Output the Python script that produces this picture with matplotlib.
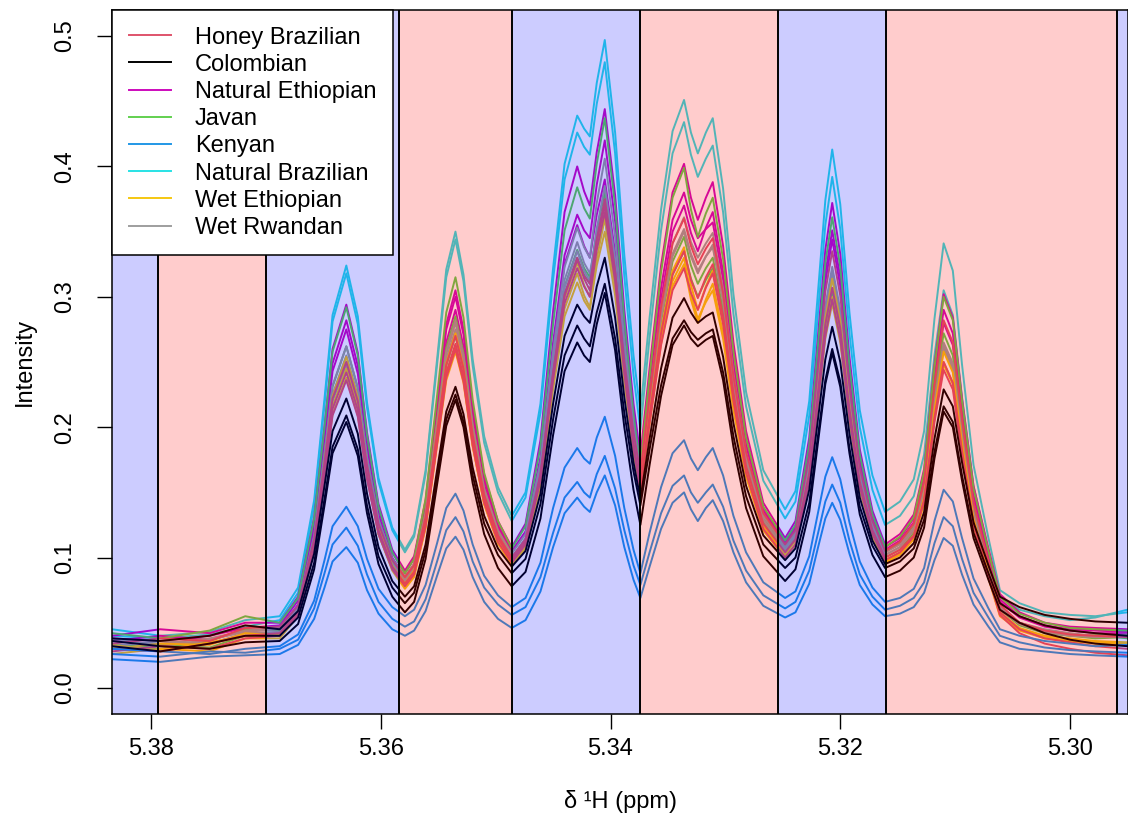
import matplotlib
matplotlib.use("Agg")
import matplotlib.pyplot as plt
from matplotlib.lines import Line2D

# ----- Data ------------------------------------------------------------

# chemical shift grid (ppm), shared by every spectrum
shift_ppm = [5.3834, 5.3792, 5.3749, 5.3718, 5.3688,
             5.3672, 5.3658, 5.3649, 5.3642, 5.3630, 5.3620, 5.3612, 5.3602, 5.3590,
             5.3579,
             5.3571, 5.3561, 5.3551, 5.3543, 5.3535, 5.3528, 5.3520, 5.3510, 5.3498,
             5.3486,
             5.3474, 5.3461, 5.3450, 5.3440, 5.3429, 5.3423, 5.3418, 5.3412, 5.3405, 5.3396, 5.3388, 5.3380,
             5.3374,
             5.3366, 5.3356, 5.3346, 5.3336, 5.3330, 5.3324, 5.3317, 5.3311, 5.3302, 5.3293, 5.3282, 5.3267,
             5.3248,
             5.3239, 5.3227, 5.3219, 5.3213, 5.3207, 5.3200, 5.3192, 5.3183, 5.3172,
             5.3161,
             5.3148, 5.3136, 5.3127, 5.3118, 5.3110, 5.3102, 5.3094, 5.3084, 5.3071,
             5.3061, 5.3044, 5.3022, 5.3000, 5.2978, 5.2950]

natural_brazilian_1 = [0.045, 0.040, 0.043, 0.052, 0.055,
    0.077, 0.144, 0.222, 0.286, 0.324, 0.285, 0.219, 0.161, 0.123, 0.106,
    0.118, 0.167, 0.252, 0.321, 0.350, 0.317, 0.252, 0.193, 0.154, 0.132,
    0.150, 0.218, 0.322, 0.402, 0.439, 0.429, 0.423, 0.464, 0.497, 0.426, 0.332, 0.255, 0.212,
    0.284, 0.367, 0.427, 0.451, 0.426, 0.410, 0.426, 0.437, 0.383, 0.302, 0.227, 0.167, 0.137,
    0.151, 0.220, 0.308, 0.374, 0.413, 0.371, 0.288, 0.213, 0.163, 0.135,
    0.143, 0.160, 0.197, 0.283, 0.341, 0.320, 0.248, 0.171, 0.115,
    0.075, 0.065, 0.058, 0.056, 0.055, 0.058]
natural_brazilian_2 = [0.040, 0.038, 0.041, 0.047, 0.052,
    0.073, 0.140, 0.217, 0.281, 0.318, 0.279, 0.215, 0.158, 0.121, 0.104,
    0.116, 0.164, 0.248, 0.315, 0.344, 0.312, 0.247, 0.188, 0.150, 0.128,
    0.146, 0.211, 0.313, 0.390, 0.426, 0.415, 0.409, 0.448, 0.480, 0.410, 0.316, 0.240, 0.198,
    0.269, 0.351, 0.410, 0.434, 0.409, 0.392, 0.406, 0.416, 0.365, 0.287, 0.216, 0.159, 0.130,
    0.143, 0.209, 0.292, 0.355, 0.392, 0.352, 0.272, 0.200, 0.152, 0.125,
    0.132, 0.147, 0.179, 0.255, 0.305, 0.286, 0.223, 0.155, 0.105,
    0.070, 0.060, 0.055, 0.052, 0.054, 0.060]

natural_ethiopian_1 = [0.040, 0.045, 0.042, 0.050, 0.050,
    0.070, 0.131, 0.201, 0.260, 0.294, 0.257, 0.196, 0.141, 0.106, 0.090,
    0.101, 0.144, 0.219, 0.279, 0.305, 0.275, 0.216, 0.163, 0.128, 0.108,
    0.126, 0.190, 0.289, 0.365, 0.400, 0.381, 0.370, 0.411, 0.444, 0.378, 0.290, 0.218, 0.178,
    0.245, 0.324, 0.380, 0.402, 0.376, 0.359, 0.376, 0.388, 0.339, 0.265, 0.197, 0.142, 0.115,
    0.128, 0.192, 0.274, 0.336, 0.372, 0.333, 0.254, 0.183, 0.136, 0.110,
    0.118, 0.133, 0.168, 0.248, 0.302, 0.284, 0.222, 0.155, 0.107,
    0.072, 0.058, 0.050, 0.047, 0.046, 0.045]
natural_ethiopian_2 = [0.038, 0.036, 0.040, 0.046, 0.048,
    0.067, 0.125, 0.193, 0.249, 0.282, 0.247, 0.189, 0.137, 0.104, 0.088,
    0.099, 0.141, 0.215, 0.275, 0.300, 0.271, 0.212, 0.160, 0.125, 0.105,
    0.120, 0.177, 0.265, 0.332, 0.363, 0.351, 0.345, 0.386, 0.420, 0.358, 0.275, 0.208, 0.170,
    0.233, 0.307, 0.359, 0.380, 0.359, 0.345, 0.352, 0.357, 0.313, 0.247, 0.186, 0.137, 0.112,
    0.124, 0.184, 0.260, 0.318, 0.351, 0.315, 0.242, 0.176, 0.132, 0.108,
    0.115, 0.130, 0.163, 0.239, 0.290, 0.272, 0.212, 0.148, 0.101,
    0.068, 0.055, 0.048, 0.045, 0.044, 0.043]
natural_ethiopian_3 = [0.036, 0.040, 0.037, 0.044, 0.046,
    0.064, 0.122, 0.188, 0.243, 0.275, 0.241, 0.184, 0.133, 0.100, 0.085,
    0.095, 0.136, 0.208, 0.265, 0.290, 0.262, 0.206, 0.156, 0.123, 0.104,
    0.119, 0.174, 0.260, 0.325, 0.355, 0.339, 0.330, 0.363, 0.390, 0.334, 0.260, 0.199, 0.165,
    0.227, 0.298, 0.350, 0.370, 0.349, 0.335, 0.353, 0.365, 0.319, 0.250, 0.187, 0.136, 0.110,
    0.122, 0.180, 0.255, 0.311, 0.344, 0.308, 0.237, 0.173, 0.130, 0.106,
    0.113, 0.127, 0.158, 0.231, 0.280, 0.263, 0.205, 0.143, 0.098,
    0.066, 0.054, 0.047, 0.044, 0.042, 0.042]

javan_1 = [0.042, 0.038, 0.044, 0.055, 0.050,
    0.069, 0.130, 0.200, 0.258, 0.292, 0.255, 0.194, 0.139, 0.104, 0.088,
    0.099, 0.145, 0.224, 0.288, 0.315, 0.284, 0.221, 0.165, 0.128, 0.107,
    0.124, 0.185, 0.279, 0.351, 0.384, 0.368, 0.360, 0.402, 0.437, 0.370, 0.282, 0.210, 0.170,
    0.239, 0.319, 0.376, 0.399, 0.367, 0.346, 0.364, 0.376, 0.329, 0.258, 0.192, 0.139, 0.113,
    0.125, 0.187, 0.267, 0.326, 0.361, 0.323, 0.247, 0.179, 0.133, 0.108,
    0.116, 0.131, 0.166, 0.246, 0.300, 0.282, 0.220, 0.153, 0.105,
    0.070, 0.057, 0.050, 0.046, 0.045, 0.044]
javan_2 = [0.034, 0.030, 0.036, 0.045, 0.044,
    0.061, 0.116, 0.179, 0.231, 0.262, 0.230, 0.177, 0.129, 0.099, 0.085,
    0.095, 0.135, 0.205, 0.261, 0.285, 0.257, 0.202, 0.152, 0.119, 0.100,
    0.114, 0.166, 0.246, 0.308, 0.336, 0.322, 0.315, 0.351, 0.380, 0.325, 0.252, 0.193, 0.160,
    0.216, 0.281, 0.327, 0.346, 0.324, 0.310, 0.322, 0.330, 0.290, 0.230, 0.175, 0.130, 0.108,
    0.118, 0.170, 0.236, 0.286, 0.315, 0.283, 0.220, 0.163, 0.125, 0.104,
    0.111, 0.124, 0.154, 0.225, 0.272, 0.255, 0.199, 0.138, 0.094,
    0.062, 0.050, 0.043, 0.040, 0.041, 0.038]
javan_3 = [0.030, 0.033, 0.031, 0.040, 0.042,
    0.059, 0.111, 0.171, 0.221, 0.250, 0.219, 0.168, 0.123, 0.094, 0.080,
    0.090, 0.128, 0.194, 0.247, 0.270, 0.244, 0.193, 0.146, 0.115, 0.098,
    0.112, 0.163, 0.242, 0.302, 0.330, 0.317, 0.310, 0.338, 0.360, 0.310, 0.243, 0.188, 0.158,
    0.211, 0.273, 0.317, 0.335, 0.314, 0.300, 0.313, 0.322, 0.283, 0.224, 0.170, 0.127, 0.105,
    0.115, 0.165, 0.229, 0.277, 0.305, 0.274, 0.213, 0.157, 0.121, 0.100,
    0.106, 0.119, 0.149, 0.217, 0.262, 0.246, 0.191, 0.133, 0.090,
    0.060, 0.048, 0.042, 0.040, 0.038, 0.039]

wet_rwandan_1 = [0.036, 0.034, 0.038, 0.044, 0.046,
    0.063, 0.117, 0.180, 0.232, 0.262, 0.230, 0.177, 0.129, 0.099, 0.085,
    0.095, 0.134, 0.203, 0.258, 0.282, 0.255, 0.201, 0.153, 0.121, 0.103,
    0.118, 0.173, 0.258, 0.323, 0.353, 0.338, 0.330, 0.372, 0.406, 0.346, 0.266, 0.201, 0.165,
    0.224, 0.292, 0.341, 0.361, 0.342, 0.330, 0.341, 0.349, 0.306, 0.241, 0.180, 0.132, 0.108,
    0.119, 0.173, 0.241, 0.293, 0.323, 0.290, 0.224, 0.165, 0.126, 0.104,
    0.110, 0.123, 0.152, 0.220, 0.265, 0.249, 0.194, 0.135, 0.092,
    0.062, 0.050, 0.044, 0.041, 0.040, 0.040]
wet_rwandan_2 = [0.032, 0.036, 0.034, 0.042, 0.043,
    0.060, 0.113, 0.174, 0.225, 0.255, 0.224, 0.172, 0.125, 0.096, 0.082,
    0.092, 0.130, 0.198, 0.252, 0.275, 0.249, 0.196, 0.149, 0.118, 0.100,
    0.115, 0.168, 0.250, 0.313, 0.342, 0.326, 0.318, 0.347, 0.370, 0.318, 0.248, 0.192, 0.160,
    0.217, 0.284, 0.331, 0.350, 0.331, 0.318, 0.331, 0.340, 0.298, 0.235, 0.176, 0.129, 0.106,
    0.116, 0.169, 0.236, 0.286, 0.315, 0.283, 0.219, 0.162, 0.123, 0.102,
    0.108, 0.121, 0.149, 0.216, 0.260, 0.244, 0.190, 0.132, 0.090,
    0.060, 0.049, 0.043, 0.040, 0.039, 0.039]
wet_rwandan_3 = [0.038, 0.032, 0.037, 0.043, 0.045,
    0.061, 0.112, 0.171, 0.220, 0.248, 0.218, 0.169, 0.124, 0.096, 0.083,
    0.093, 0.132, 0.201, 0.256, 0.280, 0.253, 0.199, 0.150, 0.118, 0.100,
    0.114, 0.166, 0.246, 0.307, 0.335, 0.320, 0.312, 0.352, 0.385, 0.329, 0.255, 0.194, 0.160,
    0.218, 0.285, 0.333, 0.352, 0.333, 0.320, 0.331, 0.338, 0.296, 0.234, 0.176, 0.129, 0.106,
    0.117, 0.170, 0.239, 0.290, 0.320, 0.287, 0.222, 0.163, 0.124, 0.102,
    0.108, 0.121, 0.150, 0.217, 0.262, 0.246, 0.191, 0.133, 0.090,
    0.060, 0.050, 0.045, 0.042, 0.040, 0.041]

wet_ethiopian_1 = [0.030, 0.034, 0.033, 0.042, 0.040,
    0.057, 0.111, 0.173, 0.224, 0.254, 0.223, 0.170, 0.124, 0.094, 0.080,
    0.090, 0.128, 0.195, 0.249, 0.272, 0.246, 0.193, 0.146, 0.115, 0.097,
    0.111, 0.161, 0.239, 0.299, 0.326, 0.309, 0.300, 0.340, 0.372, 0.318, 0.246, 0.188, 0.155,
    0.210, 0.274, 0.320, 0.338, 0.309, 0.290, 0.308, 0.320, 0.281, 0.222, 0.167, 0.124, 0.102,
    0.113, 0.166, 0.233, 0.284, 0.314, 0.282, 0.217, 0.158, 0.120, 0.098,
    0.104, 0.117, 0.146, 0.213, 0.258, 0.242, 0.188, 0.130, 0.088,
    0.058, 0.046, 0.040, 0.038, 0.036, 0.035]
wet_ethiopian_2 = [0.026, 0.030, 0.028, 0.038, 0.038,
    0.055, 0.106, 0.166, 0.216, 0.245, 0.215, 0.164, 0.118, 0.090, 0.076,
    0.085, 0.123, 0.188, 0.240, 0.262, 0.237, 0.186, 0.141, 0.111, 0.094,
    0.107, 0.155, 0.229, 0.285, 0.311, 0.297, 0.290, 0.329, 0.360, 0.308, 0.238, 0.182, 0.150,
    0.203, 0.264, 0.308, 0.325, 0.298, 0.280, 0.298, 0.310, 0.272, 0.216, 0.163, 0.121, 0.100,
    0.110, 0.160, 0.224, 0.272, 0.300, 0.269, 0.208, 0.153, 0.116, 0.096,
    0.102, 0.114, 0.142, 0.207, 0.250, 0.234, 0.182, 0.126, 0.085,
    0.056, 0.045, 0.039, 0.036, 0.035, 0.034]
wet_ethiopian_3 = [0.033, 0.029, 0.035, 0.040, 0.041,
    0.057, 0.106, 0.163, 0.210, 0.238, 0.209, 0.161, 0.118, 0.091, 0.078,
    0.087, 0.123, 0.186, 0.236, 0.258, 0.234, 0.185, 0.141, 0.111, 0.095,
    0.108, 0.157, 0.233, 0.291, 0.318, 0.301, 0.292, 0.324, 0.350, 0.301, 0.235, 0.182, 0.152,
    0.205, 0.268, 0.312, 0.330, 0.302, 0.283, 0.296, 0.305, 0.268, 0.213, 0.162, 0.121, 0.100,
    0.110, 0.159, 0.221, 0.268, 0.295, 0.265, 0.206, 0.152, 0.117, 0.097,
    0.103, 0.115, 0.142, 0.206, 0.248, 0.233, 0.180, 0.124, 0.084,
    0.055, 0.044, 0.038, 0.036, 0.034, 0.033]

honey_brazilian_1 = [0.030, 0.028, 0.034, 0.040, 0.042,
    0.058, 0.108, 0.166, 0.214, 0.242, 0.213, 0.164, 0.121, 0.093, 0.080,
    0.089, 0.126, 0.190, 0.242, 0.264, 0.239, 0.189, 0.144, 0.115, 0.098,
    0.112, 0.163, 0.242, 0.302, 0.330, 0.314, 0.305, 0.344, 0.375, 0.320, 0.247, 0.188, 0.155,
    0.209, 0.272, 0.317, 0.335, 0.313, 0.299, 0.315, 0.325, 0.285, 0.226, 0.170, 0.126, 0.104,
    0.114, 0.165, 0.230, 0.279, 0.307, 0.276, 0.214, 0.158, 0.121, 0.100,
    0.106, 0.117, 0.143, 0.204, 0.244, 0.229, 0.179, 0.125, 0.086,
    0.058, 0.045, 0.038, 0.035, 0.032, 0.030]
honey_brazilian_2 = [0.028, 0.032, 0.030, 0.038, 0.040,
    0.056, 0.105, 0.162, 0.209, 0.236, 0.208, 0.160, 0.118, 0.091, 0.078,
    0.087, 0.124, 0.187, 0.238, 0.260, 0.235, 0.186, 0.142, 0.112, 0.096,
    0.110, 0.159, 0.236, 0.295, 0.322, 0.308, 0.300, 0.336, 0.365, 0.312, 0.241, 0.184, 0.152,
    0.203, 0.263, 0.305, 0.322, 0.303, 0.290, 0.307, 0.318, 0.279, 0.220, 0.165, 0.122, 0.100,
    0.110, 0.159, 0.223, 0.270, 0.298, 0.268, 0.208, 0.154, 0.118, 0.098,
    0.104, 0.116, 0.144, 0.207, 0.250, 0.234, 0.182, 0.126, 0.085,
    0.056, 0.042, 0.034, 0.030, 0.027, 0.025]
honey_brazilian_3 = [0.034, 0.038, 0.036, 0.046, 0.047,
    0.063, 0.114, 0.173, 0.222, 0.250, 0.220, 0.171, 0.126, 0.098, 0.085,
    0.094, 0.131, 0.196, 0.248, 0.270, 0.245, 0.194, 0.148, 0.117, 0.100,
    0.114, 0.164, 0.241, 0.301, 0.328, 0.316, 0.310, 0.343, 0.370, 0.319, 0.251, 0.196, 0.165,
    0.224, 0.292, 0.341, 0.360, 0.339, 0.325, 0.337, 0.345, 0.303, 0.239, 0.181, 0.134, 0.110,
    0.121, 0.178, 0.250, 0.304, 0.335, 0.301, 0.232, 0.169, 0.128, 0.105,
    0.112, 0.126, 0.158, 0.232, 0.282, 0.265, 0.206, 0.142, 0.097,
    0.064, 0.050, 0.044, 0.041, 0.040, 0.039]

kenyan_1 = [0.030, 0.028, 0.026, 0.030, 0.032,
    0.041, 0.067, 0.098, 0.124, 0.139, 0.124, 0.099, 0.076, 0.062, 0.055,
    0.060, 0.079, 0.111, 0.138, 0.149, 0.136, 0.110, 0.086, 0.071, 0.062,
    0.069, 0.096, 0.138, 0.169, 0.184, 0.176, 0.172, 0.192, 0.208, 0.178, 0.138, 0.106, 0.088,
    0.119, 0.154, 0.180, 0.190, 0.176, 0.167, 0.177, 0.184, 0.163, 0.132, 0.104, 0.081, 0.069,
    0.074, 0.101, 0.136, 0.162, 0.177, 0.160, 0.127, 0.097, 0.077, 0.066,
    0.069, 0.076, 0.092, 0.128, 0.152, 0.143, 0.115, 0.084, 0.061,
    0.045, 0.040, 0.036, 0.034, 0.032, 0.033]
kenyan_2 = [0.026, 0.024, 0.028, 0.027, 0.030,
    0.037, 0.061, 0.088, 0.110, 0.123, 0.109, 0.087, 0.066, 0.053, 0.047,
    0.051, 0.068, 0.097, 0.121, 0.131, 0.120, 0.097, 0.077, 0.064, 0.056,
    0.062, 0.085, 0.119, 0.146, 0.158, 0.150, 0.146, 0.164, 0.178, 0.153, 0.121, 0.094, 0.079,
    0.104, 0.134, 0.155, 0.163, 0.150, 0.142, 0.150, 0.156, 0.139, 0.113, 0.090, 0.071, 0.061,
    0.066, 0.090, 0.120, 0.143, 0.156, 0.142, 0.113, 0.087, 0.070, 0.060,
    0.063, 0.069, 0.081, 0.111, 0.131, 0.124, 0.099, 0.073, 0.054,
    0.040, 0.035, 0.031, 0.029, 0.028, 0.027]
kenyan_3 = [0.022, 0.020, 0.024, 0.025, 0.026,
    0.033, 0.053, 0.077, 0.097, 0.108, 0.096, 0.075, 0.057, 0.045, 0.040,
    0.044, 0.059, 0.086, 0.107, 0.116, 0.106, 0.085, 0.066, 0.053, 0.046,
    0.052, 0.074, 0.108, 0.134, 0.146, 0.139, 0.135, 0.150, 0.163, 0.140, 0.108, 0.083, 0.069,
    0.093, 0.122, 0.142, 0.150, 0.137, 0.128, 0.138, 0.144, 0.128, 0.104, 0.081, 0.063, 0.054,
    0.058, 0.080, 0.109, 0.130, 0.142, 0.129, 0.103, 0.079, 0.064, 0.055,
    0.057, 0.062, 0.073, 0.098, 0.115, 0.109, 0.087, 0.064, 0.047,
    0.035, 0.030, 0.028, 0.026, 0.025, 0.024]

colombian_1 = [0.038, 0.036, 0.040, 0.048, 0.045,
    0.059, 0.103, 0.155, 0.197, 0.222, 0.195, 0.149, 0.108, 0.082, 0.070,
    0.078, 0.110, 0.167, 0.212, 0.231, 0.210, 0.169, 0.132, 0.107, 0.093,
    0.105, 0.149, 0.218, 0.270, 0.294, 0.285, 0.280, 0.308, 0.330, 0.284, 0.223, 0.173, 0.145,
    0.191, 0.245, 0.284, 0.299, 0.288, 0.280, 0.285, 0.288, 0.254, 0.203, 0.155, 0.117, 0.098,
    0.107, 0.152, 0.209, 0.252, 0.277, 0.250, 0.195, 0.146, 0.113, 0.095,
    0.100, 0.111, 0.135, 0.191, 0.229, 0.216, 0.173, 0.127, 0.094,
    0.070, 0.062, 0.056, 0.053, 0.051, 0.050]
colombian_2 = [0.032, 0.028, 0.034, 0.040, 0.040,
    0.054, 0.096, 0.145, 0.185, 0.209, 0.183, 0.140, 0.101, 0.077, 0.065,
    0.073, 0.105, 0.161, 0.206, 0.225, 0.204, 0.163, 0.126, 0.102, 0.088,
    0.099, 0.141, 0.206, 0.255, 0.278, 0.268, 0.262, 0.288, 0.310, 0.268, 0.211, 0.166, 0.140,
    0.183, 0.232, 0.268, 0.282, 0.273, 0.267, 0.272, 0.275, 0.242, 0.193, 0.147, 0.110, 0.092,
    0.100, 0.142, 0.196, 0.236, 0.260, 0.235, 0.184, 0.139, 0.109, 0.092,
    0.097, 0.107, 0.129, 0.181, 0.216, 0.204, 0.163, 0.119, 0.088,
    0.065, 0.055, 0.048, 0.044, 0.042, 0.040]
colombian_3 = [0.036, 0.032, 0.030, 0.035, 0.036,
    0.049, 0.091, 0.140, 0.180, 0.204, 0.178, 0.134, 0.095, 0.070, 0.058,
    0.066, 0.099, 0.156, 0.201, 0.221, 0.200, 0.157, 0.118, 0.092, 0.078,
    0.089, 0.130, 0.194, 0.243, 0.265, 0.255, 0.250, 0.279, 0.303, 0.259, 0.200, 0.152, 0.125,
    0.171, 0.224, 0.263, 0.278, 0.268, 0.262, 0.267, 0.270, 0.236, 0.185, 0.138, 0.101, 0.082,
    0.091, 0.135, 0.191, 0.233, 0.257, 0.231, 0.180, 0.133, 0.102, 0.085,
    0.090, 0.100, 0.123, 0.176, 0.212, 0.200, 0.159, 0.115, 0.083,
    0.060, 0.050, 0.042, 0.037, 0.034, 0.032]

# legend order and colours (R 4 palette)
varieties = ["Honey Brazilian", "Colombian", "Natural Ethiopian", "Javan",
             "Kenyan", "Natural Brazilian", "Wet Ethiopian", "Wet Rwandan"]
variety_colors = ["#DF536B", "#000000", "#CD0BBC", "#61D04F",
                  "#2297E6", "#28E2E5", "#F5C710", "#9E9E9E"]

# shaded integration regions (ppm edges) and their colours
region_edges = [5.3900, 5.3794, 5.3700, 5.3584, 5.3486, 5.3374,
                5.3254, 5.3160, 5.2959, 5.2900]
region_colors = ["blue", "red", "blue", "red", "blue", "red", "blue", "red", "blue"]

# ----- Plot -------------------------------------------------

spectra = {
    "Natural Brazilian": [natural_brazilian_1, natural_brazilian_2],
    "Natural Ethiopian": [natural_ethiopian_1, natural_ethiopian_2, natural_ethiopian_3],
    "Javan": [javan_1, javan_2, javan_3],
    "Wet Rwandan": [wet_rwandan_1, wet_rwandan_2, wet_rwandan_3],
    "Wet Ethiopian": [wet_ethiopian_1, wet_ethiopian_2, wet_ethiopian_3],
    "Honey Brazilian": [honey_brazilian_1, honey_brazilian_2, honey_brazilian_3],
    "Kenyan": [kenyan_1, kenyan_2, kenyan_3],
    "Colombian": [colombian_1, colombian_2, colombian_3],
}
color_of = dict(zip(varieties, variety_colors))

plt.rcParams['font.family'] = ['Liberation Sans', 'DejaVu Sans']
plt.rcParams['font.size'] = 17

fig = plt.figure(figsize=(11.28, 8.16), dpi=100)
ax = fig.add_axes([112/1128, 1 - 714/816, 1016/1128, 704/816])

for name, lines in spectra.items():
    for y in lines:
        ax.plot(shift_ppm, y, color=color_of[name], lw=1.4, zorder=2)

# translucent regions are laid over the spectra
for i in range(len(region_colors)):
    ax.axvspan(region_edges[i], region_edges[i + 1], color=region_colors[i],
               alpha=0.2, lw=0, zorder=3)
for edge in region_edges[1:-1]:
    ax.axvline(edge, color="black", lw=1.4, zorder=4)

ax.set_xlim(5.3834, 5.29495)
ax.set_ylim(-0.02, 0.52)
ax.set_xticks([5.38, 5.36, 5.34, 5.32, 5.30])
ax.set_xticklabels(["5.38", "5.36", "5.34", "5.32", "5.30"])
ax.set_yticks([0.0, 0.1, 0.2, 0.3, 0.4, 0.5])
ax.set_yticklabels(["0.0", "0.1", "0.2", "0.3", "0.4", "0.5"])
ax.tick_params(axis='both', direction='out', length=10.5, width=1.0, labelsize=17)
ax.tick_params(axis='x', pad=7)
ax.tick_params(axis='y', pad=15, labelrotation=90)
for lbl in ax.get_yticklabels():
    lbl.set_va('center')
for sp in ax.spines.values():
    sp.set_linewidth(1.1)
    sp.set_zorder(6)

ax.set_xlabel("δ ¹H (ppm)", fontsize=17)
ax.set_ylabel("Intensity", fontsize=17)
ax.xaxis.set_label_coords(0.5, -0.108)
ax.yaxis.set_label_coords(-0.075, 0.5)

handles = [Line2D([], [], color=c, lw=1.4) for c in variety_colors]
leg = ax.legend(handles, varieties, loc='upper left', bbox_to_anchor=(0, 1),
                borderaxespad=0, fancybox=False, framealpha=1, edgecolor='black',
                fontsize=17, handlelength=1.8, handletextpad=1.0,
                borderpad=0.7, labelspacing=0.22)
leg.get_frame().set_linewidth(1.1)
leg.set_zorder(10)

fig.savefig("out.png", dpi=100)
